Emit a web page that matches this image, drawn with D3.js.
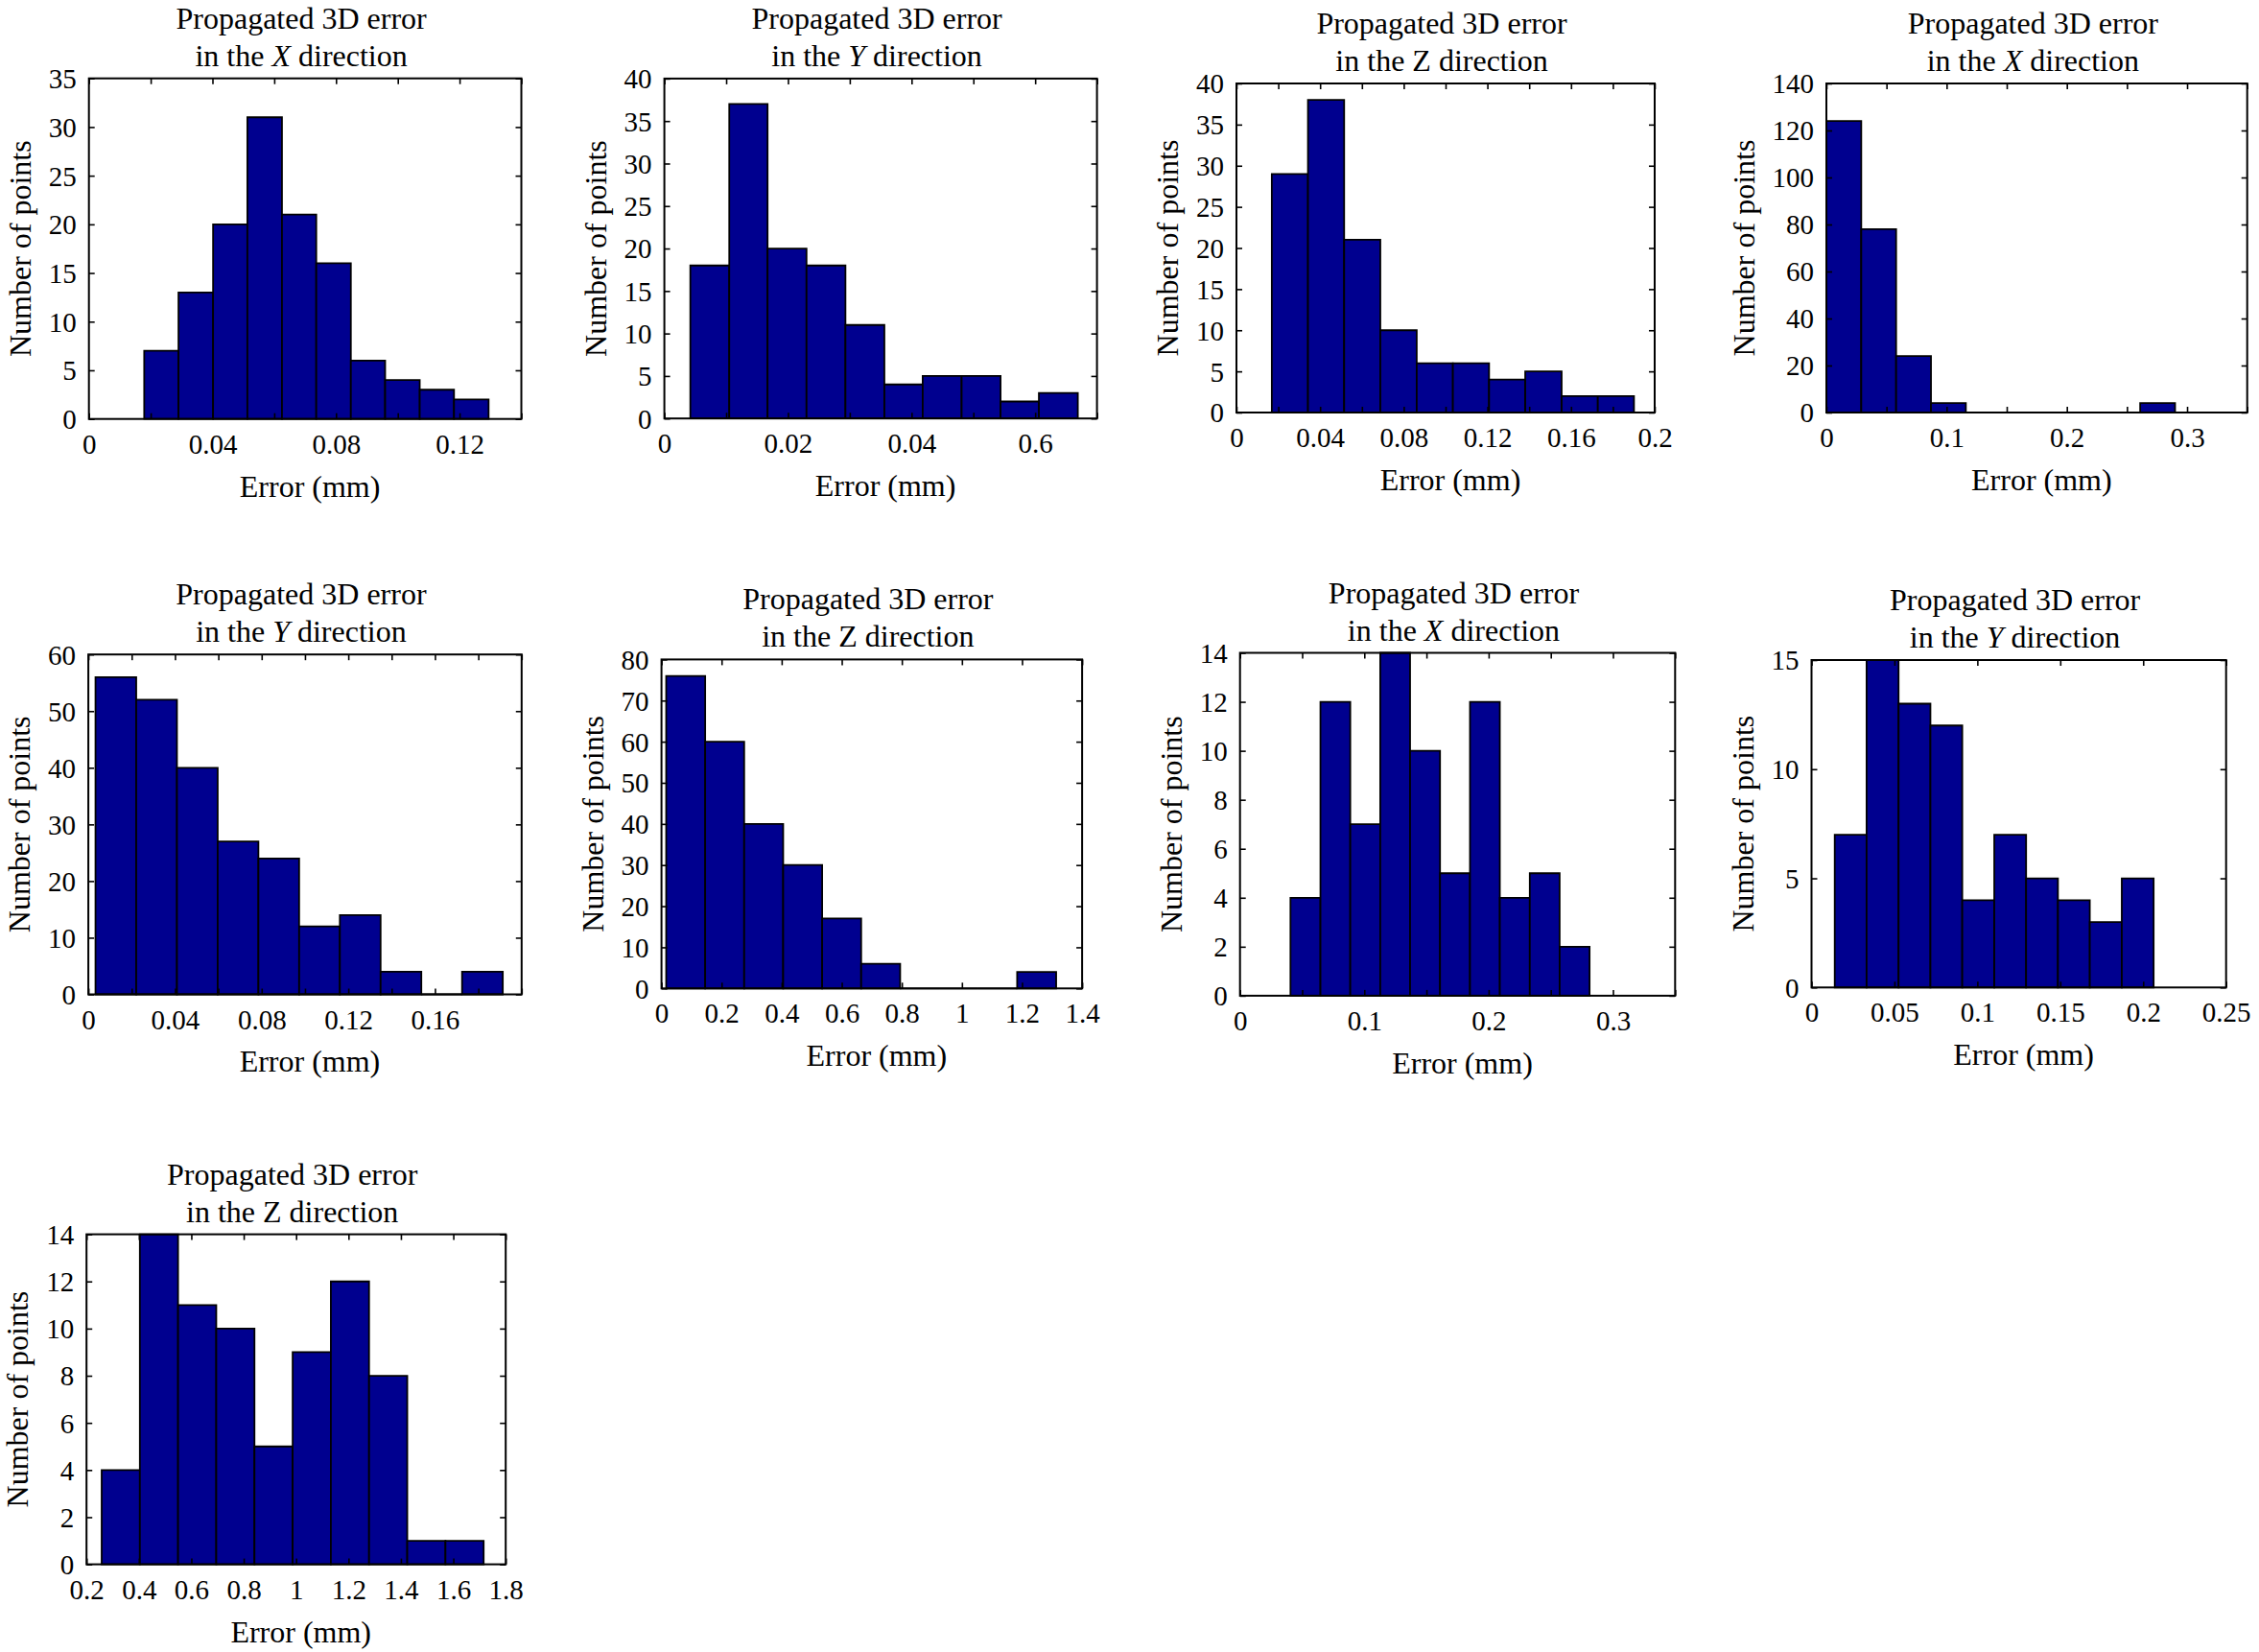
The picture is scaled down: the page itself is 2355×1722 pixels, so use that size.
<!DOCTYPE html>
<html><head><meta charset="utf-8">
<script src="https://cdn.jsdelivr.net/npm/d3@7"></script>
<style>
body{margin:0;background:#fff;}
svg{display:block;}
text{font-family:"Liberation Serif","Times New Roman",serif;fill:#000;}
</style>
</head><body>
<svg id="chart" width="2355" height="1722"></svg>
<script>
// ---------------- data ----------------
const directions = ["X","Y","Z","X","Y","Z","X","Y","Z"];
const italicDirection = [true,true,false,true,true,false,true,true,false];

const countsP1 = [7,13,20,31,21,16,6,4,3,2];
const edgesP1  = [0.0179,0.0290,0.0402,0.0513,0.0625,0.0736,0.0848,0.0959,0.1071,0.1182,0.1294];
const countsP2 = [18,37,20,18,11,4,5,5,2,3];
const edgesP2  = [0.0042,0.0105,0.0167,0.0230,0.0293,0.0356,0.0418,0.0481,0.0544,0.0606,0.0669];
const countsP3 = [29,38,21,10,6,6,4,5,2,2];
const edgesP3  = [0.0169,0.0342,0.0515,0.0688,0.0862,0.1035,0.1208,0.1381,0.1555,0.1728,0.1901];
const countsP4 = [124,78,24,4,0,0,0,0,0,4];
const edgesP4  = [0,0.029,0.058,0.087,0.116,0.145,0.174,0.203,0.232,0.261,0.290];
const countsP5 = [56,52,40,27,24,12,14,4,0,4];
const edgesP5  = [0.0033,0.0221,0.0409,0.0597,0.0785,0.0973,0.1161,0.1349,0.1537,0.1725,0.1913];
const countsP6 = [76,60,40,30,17,6,0,0,0,4];
const edgesP6  = [0.0156,0.1454,0.2752,0.4050,0.5348,0.6646,0.7944,0.9242,1.0540,1.1838,1.3136];
const countsP7 = [4,12,7,14,10,5,12,4,5,2];
const edgesP7  = [0.0406,0.0647,0.0887,0.1128,0.1368,0.1609,0.1850,0.2090,0.2331,0.2571,0.2812];
const countsP8 = [7,15,13,12,4,7,5,4,3,5];
const edgesP8  = [0.0140,0.0332,0.0525,0.0717,0.0909,0.1102,0.1294,0.1486,0.1678,0.1871,0.2063];
const countsP9 = [4,14,11,10,5,9,12,8,1,1];
const edgesP9  = [0.2578,0.4036,0.5494,0.6952,0.8410,0.9868,1.1326,1.2784,1.4242,1.5700,1.7158];

// axis domains and ticks
const xDomainP1 = [0,0.14], xTicksP1 = [0,0.02,0.04,0.06,0.08,0.10,0.12,0.14], xLabelsP1 = ["0","","0.04","","0.08","","0.12",""];
const xDomainP2 = [0,0.07], xTicksP2 = [0,0.01,0.02,0.03,0.04,0.05,0.06,0.07], xLabelsP2 = ["0","","0.02","","0.04","","0.6",""];
const xDomainP3 = [0,0.2],  xTicksP3 = [0,0.02,0.04,0.06,0.08,0.10,0.12,0.14,0.16,0.18,0.2], xLabelsP3 = ["0","","0.04","","0.08","","0.12","","0.16","","0.2"];
const xDomainP4 = [0,0.35], xTicksP4 = [0,0.05,0.1,0.15,0.2,0.25,0.3,0.35], xLabelsP4 = ["0","","0.1","","0.2","","0.3",""];
const xDomainP5 = [0,0.2],  xTicksP5 = [0,0.02,0.04,0.06,0.08,0.10,0.12,0.14,0.16,0.18,0.2], xLabelsP5 = ["0","","0.04","","0.08","","0.12","","0.16","",""];
const xDomainP6 = [0,1.4],  xTicksP6 = [0,0.2,0.4,0.6,0.8,1,1.2,1.4], xLabelsP6 = ["0","0.2","0.4","0.6","0.8","1","1.2","1.4"];
const xDomainP7 = [0,0.35], xTicksP7 = [0,0.05,0.1,0.15,0.2,0.25,0.3,0.35], xLabelsP7 = ["0","","0.1","","0.2","","0.3",""];
const xDomainP8 = [0,0.25], xTicksP8 = [0,0.05,0.1,0.15,0.2,0.25], xLabelsP8 = ["0","0.05","0.1","0.15","0.2","0.25"];
const xDomainP9 = [0.2,1.8], xTicksP9 = [0.2,0.4,0.6,0.8,1,1.2,1.4,1.6,1.8], xLabelsP9 = ["0.2","0.4","0.6","0.8","1","1.2","1.4","1.6","1.8"];

const yTicksP1 = [0,5,10,15,20,25,30,35];
const yTicksP2 = [0,5,10,15,20,25,30,35,40];
const yTicksP3 = [0,5,10,15,20,25,30,35,40];
const yTicksP4 = [0,20,40,60,80,100,120,140];
const yTicksP5 = [0,10,20,30,40,50,60];
const yTicksP6 = [0,10,20,30,40,50,60,70,80];
const yTicksP7 = [0,2,4,6,8,10,12,14];
const yTicksP8 = [0,5,10,15];
const yTicksP9 = [0,2,4,6,8,10,12,14];

const titleLine1 = "Propagated 3D error";
const xAxisTitle = "Error (mm)";
const yAxisTitle = "Number of points";

// ---------------- layout (pixel frames of each axes box) ----------------
const frames = [
  [92.7, 81.7, 543.5, 436.7],
  [692.6, 81.9, 1143.6, 436.2],
  [1289, 87, 1725, 430],
  [1904, 87, 2342.7, 430],
  [92.1, 682.2, 543.8, 1036.5],
  [689.6, 687.4, 1128.1, 1030.3],
  [1292.7, 680.5, 1746.3, 1037.9],
  [1888.5, 688, 2320.7, 1029.3],
  [90.2, 1286.6, 527.2, 1630.6]
];

const panels = [
  {counts:countsP1, edges:edgesP1, xd:xDomainP1, xt:xTicksP1, xl:xLabelsP1, yt:yTicksP1},
  {counts:countsP2, edges:edgesP2, xd:xDomainP2, xt:xTicksP2, xl:xLabelsP2, yt:yTicksP2},
  {counts:countsP3, edges:edgesP3, xd:xDomainP3, xt:xTicksP3, xl:xLabelsP3, yt:yTicksP3},
  {counts:countsP4, edges:edgesP4, xd:xDomainP4, xt:xTicksP4, xl:xLabelsP4, yt:yTicksP4},
  {counts:countsP5, edges:edgesP5, xd:xDomainP5, xt:xTicksP5, xl:xLabelsP5, yt:yTicksP5},
  {counts:countsP6, edges:edgesP6, xd:xDomainP6, xt:xTicksP6, xl:xLabelsP6, yt:yTicksP6},
  {counts:countsP7, edges:edgesP7, xd:xDomainP7, xt:xTicksP7, xl:xLabelsP7, yt:yTicksP7},
  {counts:countsP8, edges:edgesP8, xd:xDomainP8, xt:xTicksP8, xl:xLabelsP8, yt:yTicksP8},
  {counts:countsP9, edges:edgesP9, xd:xDomainP9, xt:xTicksP9, xl:xLabelsP9, yt:yTicksP9}
];

const BAR_FILL = "#00008F";
const TICK_FONT = 29, LABEL_FONT = 32;

const svg = d3.select("#chart");

panels.forEach((p, i) => {
  const [x0, y0, x1, y1] = frames[i];
  const w = x1 - x0, h = y1 - y0;
  const g = svg.append("g").attr("transform", `translate(${x0},${y0})`);
  const xs = d3.scaleLinear().domain(p.xd).range([0, w]);
  const ys = d3.scaleLinear().domain([0, d3.max(p.yt)]).range([h, 0]);

  // bars
  const bins = p.counts.map((c, k) => ({c, a: p.edges[k], b: p.edges[k + 1]}));
  g.append("g").selectAll("path").data(bins).join("path")
    .attr("d", d => {
      const xa = xs(d.a), xb = xs(d.b), yt = ys(d.c), yb = ys(0);
      return `M${xa},${yb}V${yt}H${xb}V${yb}Z`;
    })
    .attr("fill", BAR_FILL).attr("stroke", "#000").attr("stroke-width", 1.8)
    .attr("stroke-linejoin", "miter");

  // frame
  g.append("rect").attr("x", 0).attr("y", 0).attr("width", w).attr("height", h)
    .attr("fill", "none").attr("stroke", "#000").attr("stroke-width", 2);

  const tickStyle = sel => {
    sel.select(".domain").remove();
    sel.selectAll(".tick line").attr("stroke", "#000").attr("stroke-width", 1.6);
    sel.attr("font-family", null).attr("font-size", null);
  };

  // bottom axis with labels
  const gx = g.append("g").attr("transform", `translate(0,${h})`)
    .call(d3.axisBottom(xs).tickValues(p.xt).tickSizeInner(-6).tickSizeOuter(0)
      .tickFormat((d, k) => p.xl[k]));
  tickStyle(gx);
  gx.selectAll(".tick text").attr("y", 36).attr("dy", null)
    .style("font-size", TICK_FONT + "px");

  // top axis (ticks only)
  const gxt = g.append("g")
    .call(d3.axisTop(xs).tickValues(p.xt).tickSizeInner(-6).tickSizeOuter(0).tickFormat(""));
  tickStyle(gxt);

  // left axis with labels
  const gy = g.append("g")
    .call(d3.axisLeft(ys).tickValues(p.yt).tickSizeInner(-6).tickSizeOuter(0).tickFormat(d3.format("d")));
  tickStyle(gy);
  gy.selectAll(".tick text").attr("x", -13).attr("dy", "0.34em")
    .style("font-size", TICK_FONT + "px");

  // right axis (ticks only)
  const gyr = g.append("g").attr("transform", `translate(${w},0)`)
    .call(d3.axisRight(ys).tickValues(p.yt).tickSizeInner(-6).tickSizeOuter(0).tickFormat(""));
  tickStyle(gyr);

  // y axis title
  let minX = 0;
  gy.selectAll(".tick text").each(function() {
    const bb = this.getBBox();
    minX = Math.min(minX, bb.x);
  });
  g.append("text")
    .attr("transform", `translate(${minX - 19},${h / 2}) rotate(-90)`)
    .attr("text-anchor", "middle")
    .style("font-size", LABEL_FONT + "px")
    .text(yAxisTitle);

  // x axis title
  g.append("text")
    .attr("x", w / 2 + 5).attr("y", h + 81)
    .attr("text-anchor", "middle")
    .style("font-size", LABEL_FONT + "px")
    .text(xAxisTitle);

  // title (two lines)
  const title = g.append("text").attr("text-anchor", "middle")
    .style("font-size", LABEL_FONT + "px");
  title.append("tspan").attr("x", w / 2 - 4).attr("y", -52).text(titleLine1);
  const l2 = title.append("tspan").attr("x", w / 2 - 4).attr("y", -13);
  l2.append("tspan").text("in the ");
  l2.append("tspan").style("font-style", italicDirection[i] ? "italic" : "normal").text(directions[i]);
  l2.append("tspan").text(" direction");
});
</script>
</body></html>
